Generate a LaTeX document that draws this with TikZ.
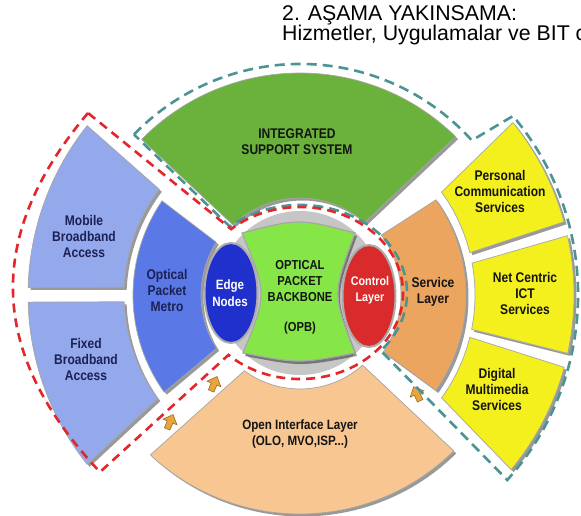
\documentclass[tikz,border=0pt]{standalone}
\usepackage{fontspec}
\setmainfont{Liberation Sans}
\newfontfamily\lblfont[FakeStretch=0.86]{Liberation Sans}
\usetikzlibrary{shapes.geometric}
\definecolor{bluelight}{HTML}{94A8EC}
\definecolor{bluemid}{HTML}{5A78E6}
\definecolor{bluedeep}{HTML}{2030CC}
\definecolor{greensec}{HTML}{6AB23C}
\definecolor{greenopb}{HTML}{86E648}
\definecolor{redctl}{HTML}{D92B2B}
\definecolor{orsvc}{HTML}{EBA55F}
\definecolor{oropen}{HTML}{F8C690}
\definecolor{yel}{HTML}{F4F01E}
\definecolor{reddsh}{HTML}{E3262B}
\definecolor{tealdsh}{HTML}{4C9494}
\definecolor{navytxt}{HTML}{1C2155}
\definecolor{arrowor}{HTML}{E9A53B}
% ring sector: inner angle 1, outer angle 1, outer angle 2, inner angle 2, r in, r out, style
\newcommand{\ringsector}[7]{%
  \fill[shadowfill,shift={(302.5,297.5)}] (#1:#5) -- (#2:#6) arc[start angle=#2,end angle=#3,radius=#6] -- (#4:#5) arc[start angle=#4,end angle=#1,radius=#5] -- cycle;
  \filldraw[#7,shift={(300,295)}] (#1:#5) -- (#2:#6) arc[start angle=#2,end angle=#3,radius=#6] -- (#4:#5) arc[start angle=#4,end angle=#1,radius=#5] -- cycle;}
\newcommand{\opbpath}{(242,233) .. controls (299.2,218.3) .. (355,233) .. controls (332.3,294.3) .. (355,353) .. controls (299,363.7) .. (243,353) .. controls (267.2,294.3) .. (242,233) -- cycle}
\newcommand{\arricon}[3]{\filldraw[arrowicon,shift={(#1,#2)},rotate=#3] (0,-8) -- (7.5,0) -- (3,0) -- (3,7.5) -- (-3,7.5) -- (-3,0) -- (-7.5,0) -- cycle;}
\begin{document}
\begin{tikzpicture}[x=1pt,y=1pt,yscale=-1,
  shadowfill/.style={fill=black,opacity=0.4},
  shapeline/.style={draw=black!35,line width=0.7pt},
  lbl/.style={font=\lblfont\bfseries\fontsize{14}{16}\selectfont,align=center,inner sep=0pt,text=black!92},
  reddash/.style={draw=reddsh,line width=2.6pt,dash pattern=on 9pt off 6pt},
  tealdash/.style={draw=tealdsh,line width=2.6pt,dash pattern=on 10pt off 6pt},
  arrowicon/.style={fill=arrowor,draw=arrowor!65!black,line width=0.6pt},
  titletext/.style={anchor=base west,inner sep=0pt,align=left,font=\fontsize{21.3}{18.5}\selectfont}]
\useasboundingbox (0,0) rectangle (581,516);
\fill[white] (0,0) rectangle (581,516);
\clip (0,0) rectangle (581,516);
% title (base anchor = baseline of the last line)
\node[titletext] (title) at (282,41) {2. AŞAMA YAKINSAMA:\\Hizmetler, Uygulamalar ve BIT c};
% outer ring, left
\ringsector{216.9}{218.5}{181.6}{182.5}{176}{272}{fill=bluelight,shapeline}
\ringsector{177.8}{178.5}{141.5}{143.9}{176}{272}{fill=bluelight,shapeline}
% outer ring, right
\ringsector{-36}{-39}{-15.5}{-14}{175}{274}{fill=yel,shapeline}
\ringsector{-10.5}{-12.5}{12.3}{11.3}{175}{274}{fill=yel,shapeline}
\ringsector{14}{15.3}{39.6}{36}{175}{274}{fill=yel,shapeline}
% inner ring
\ringsector{226.3}{224.5}{314.5}{311.7}{97}{222}{fill=greensec,shapeline}
\ringsector{126.3}{133.1}{45.4}{48.3}{94}{219}{fill=oropen,shapeline}
\ringsector{212.2}{214.3}{144.4}{147.4}{99}{167}{fill=bluemid,shapeline}
\ringsector{-36.4}{-35}{35.1}{34.3}{101}{166}{fill=orsvc,shapeline}
% centre
\fill[gray!45] (300,293) circle[radius=82];
\fill[shadowfill,shift={(2,3)}] \opbpath;
\filldraw[fill=greenopb,draw=gray!70,line width=1.2pt] \opbpath;
\node[ellipse,minimum width=53pt,minimum height=100pt,inner sep=0pt,fill=bluedeep,draw=gray!65,line width=2pt] (edge) at (231,293) {};
\node[ellipse,minimum width=53pt,minimum height=102pt,inner sep=0pt,fill=redctl,draw=gray!65,line width=2pt] (ctrl) at (369,296) {};
% small arrows
\arricon{170}{422}{22}
\arricon{214}{384}{22}
\arricon{417}{394}{-25}
% dashed groupings
\draw[tealdash] (134,134.5) arc[start angle=224,end angle=318,radius=231] -- (513,116) arc[start angle=-40,end angle=41.8,radius=278] -- (380.8,350.7) arc[start angle=41,end angle=-131,x radius=107,y radius=88] -- cycle;
\draw[reddash] (88,113) .. controls (-14,234) and (-14,351) .. (100,472) -- (228.5,354.9) arc[start angle=134,end angle=-132,x radius=103,y radius=86] -- cycle;
% labels
\node[lbl] (isys) at (297,142) {INTEGRATED\\SUPPORT SYSTEM};
\node[lbl,text=navytxt] (mobile) at (84,236) {Mobile\\Broadband\\Access};
\node[lbl,text=navytxt] (fixed) at (86,359) {Fixed\\Broadband\\Access};
\node[lbl,text=navytxt] (metro) at (167,290) {Optical\\Packet\\Metro};
\node[lbl,text=white,font=\lblfont\bfseries\fontsize{13.5}{16.5}\selectfont] (edgetxt) at (230,293) {Edge\\Nodes};
\node[lbl,font=\lblfont\bfseries\fontsize{13}{16}\selectfont] (opbtxt) at (300,281) {OPTICAL\\PACKET\\BACKBONE};
\node[lbl,font=\lblfont\bfseries\fontsize{13}{16}\selectfont] (opbabbr) at (300,328) {(OPB)};
\node[lbl,text=white,font=\lblfont\bfseries\fontsize{12.5}{16}\selectfont] (ctrltxt) at (370,290) {Control\\Layer};
\node[lbl] (service) at (433,292) {Service\\Layer};
\node[lbl] (pcs) at (500,191) {Personal\\Communication\\Services};
\node[lbl] (netc) at (525,293) {Net Centric\\ICT\\Services};
\node[lbl] (dms) at (497,389) {Digital\\Multimedia\\Services};
\node[lbl,font=\lblfont\bfseries\fontsize{13.5}{15.5}\selectfont] (openif) at (300,434) {Open Interface Layer\\(OLO, MVO,ISP...)};
\end{tikzpicture}
\end{document}
